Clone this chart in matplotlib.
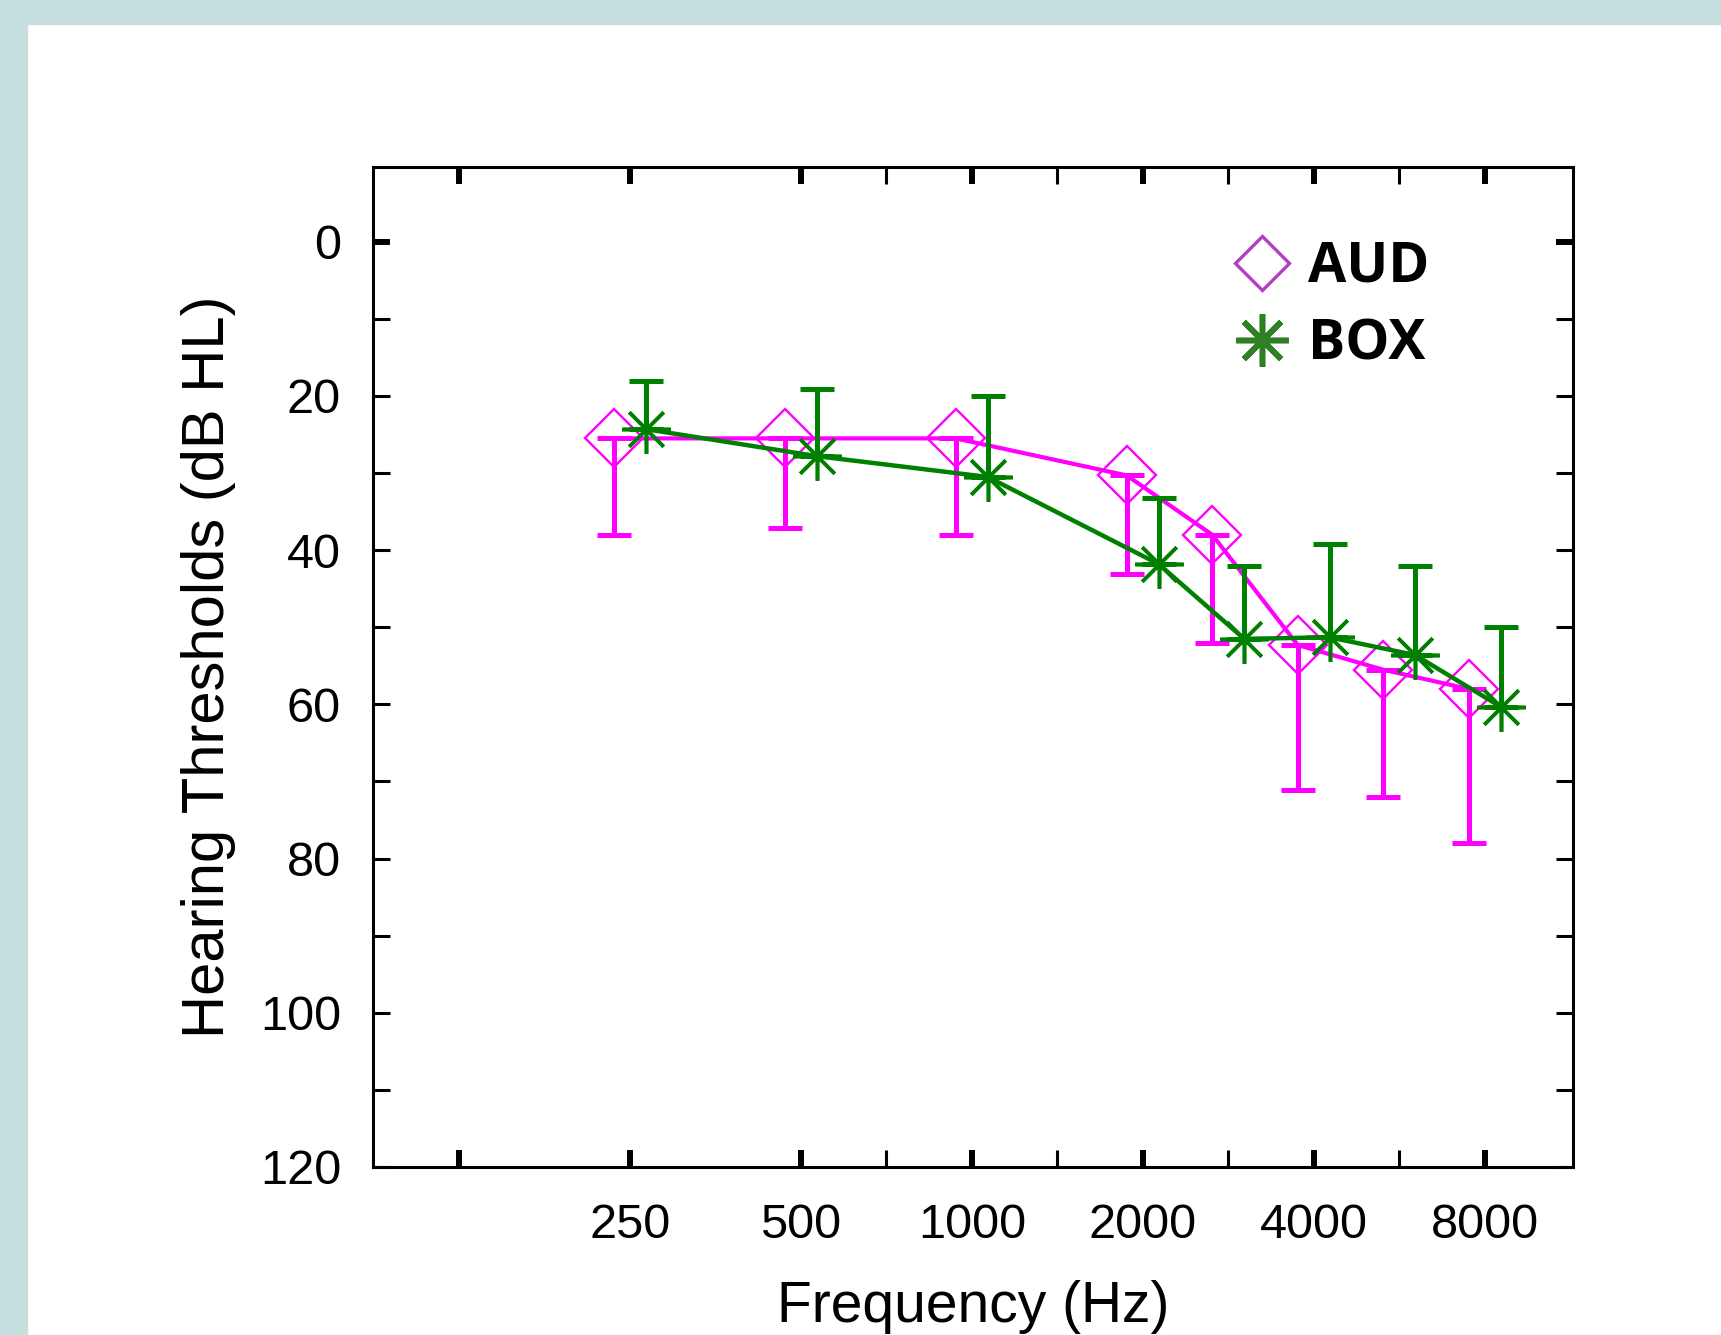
import numpy as np
import matplotlib
matplotlib.use("Agg")
import matplotlib.pyplot as plt
from matplotlib.lines import Line2D
from matplotlib.patches import Rectangle

# ---------------- data ----------------
freqs = [250, 500, 1000, 2000, 3000, 4000, 6000, 8000]
aud_mean = [25.5, 25.5, 25.5, 30.3, 38.0, 52.3, 55.5, 58.0]
aud_bar_end = [38.0, 37.1, 38.0, 43.1, 52.0, 71.1, 72.0, 78.0]
box_mean = [24.3, 27.8, 30.5, 41.8, 51.5, 51.3, 53.6, 60.3]
box_bar_end = [18.0, 19.1, 20.0, 33.2, 42.0, 39.2, 42.0, 49.9]

x_tick_freqs = [125, 250, 500, 1000, 2000, 4000, 8000]
x_tick_labels = ["", "250", "500", "1000", "2000", "4000", "8000"]
x_mid_freqs = [707, 1414, 2828, 5657]
y_major = [0, 20, 40, 60, 80, 100, 120]
y_minor = [10, 30, 50, 70, 90, 110]
legend_labels = ["AUD", "BOX"]

# ---------------- styling ----------------
FONT = "Liberation Sans"
AUD_COLOR = "#FF00FF"
BOX_COLOR = "#008000"
LEG_AUD_COLOR = "#B23FC0"
LEG_BOX_COLOR = "#2F7F24"
BAND_COLOR = "#C6E0E0"


def audio_pos(f):
    """Audiogram x-position in octaves re 250 Hz (half-octave grid)."""
    return np.round(2 * np.log2(np.asarray(f, dtype=float) / 250.0)) / 2


fig = plt.figure(figsize=(17.21, 13.35), dpi=100, facecolor="white")
W, H = 1721, 1335

# slide background bands
fig.patches.append(Rectangle((0, 0), 27 / W, 1, transform=fig.transFigure,
                             color=BAND_COLOR, zorder=0))
fig.patches.append(Rectangle((0, 1 - 24 / H), 1, 24 / H, transform=fig.transFigure,
                             color=BAND_COLOR, zorder=0))

ax = fig.add_axes([373 / W, (H - 1167) / H, 1200 / W, 1000 / H])

x = audio_pos(freqs)
aud_mean_a = np.array(aud_mean)
box_mean_a = np.array(box_mean)
aud_off = -0.095
box_off = 0.092

# AUD
ax.errorbar(x + aud_off, aud_mean_a,
            yerr=[np.zeros_like(aud_mean_a), np.array(aud_bar_end) - aud_mean_a],
            fmt="none", ecolor=AUD_COLOR, elinewidth=3.6, capsize=12, capthick=3.6, zorder=2)
ax.plot(x + aud_off, aud_mean_a, color=AUD_COLOR, lw=3.0, marker="D", ms=30,
        mfc="none", mec=AUD_COLOR, mew=1.7, zorder=3)

# BOX
ax.errorbar(x + box_off, box_mean_a,
            yerr=[box_mean_a - np.array(box_bar_end), np.zeros_like(box_mean_a)],
            fmt="none", ecolor=BOX_COLOR, elinewidth=3.6, capsize=12, capthick=3.6, zorder=4)
ax.plot(x + box_off, box_mean_a, color=BOX_COLOR, lw=3.2, marker=(8, 2, 0), ms=35,
        mec=BOX_COLOR, mew=2.6, zorder=5)

# axes
ax.set_xlim(-1.503, 5.515)
ax.set_ylim(120, -9.7)

ax.set_xticks(audio_pos(x_tick_freqs))
ax.set_xticklabels(x_tick_labels)
ax.set_xticks(audio_pos(x_mid_freqs), minor=True)
ax.set_yticks(y_major)
ax.set_yticklabels([str(v) for v in y_major])
ax.set_yticks(y_minor, minor=True)

for s in ax.spines.values():
    s.set_linewidth(2.2)

ax.tick_params(axis="both", which="both", direction="in", top=True, right=True,
               length=12.2, colors="black")
ax.tick_params(axis="x", which="major", width=4.3, pad=26)
ax.tick_params(axis="x", which="minor", width=2.2)
ax.tick_params(axis="y", which="both", width=2.2, pad=23)

for t in ax.yaxis.get_major_ticks()[:1]:
    t.tick1line.set_markeredgewidth(4.3)
    t.tick2line.set_markeredgewidth(4.3)

for lab in ax.get_xticklabels() + ax.get_yticklabels():
    lab.set_fontfamily(FONT)
    lab.set_fontsize(35)

ax.set_xlabel("Frequency (Hz)", fontfamily=FONT, fontsize=41, labelpad=23)
ax.set_ylabel("Hearing Thresholds (dB HL)", fontfamily=FONT, fontsize=43, labelpad=17)

# legend
handles = [
    Line2D([], [], ls="none", marker="D", ms=28, mfc="none", mec=LEG_AUD_COLOR, mew=2.4),
    Line2D([], [], ls="none", marker=(8, 2, 0), ms=38, mec=LEG_BOX_COLOR, mew=4.0),
]
leg = ax.legend(handles, legend_labels, loc="upper left",
                bbox_to_anchor=(1240 / W, (H - 240) / H), bbox_transform=fig.transFigure,
                frameon=False, handlelength=0.8, handletextpad=0.42, labelspacing=0.4,
                borderpad=0, borderaxespad=0,
                prop={"family": "Open Sans", "weight": "bold", "size": 40})

fig.savefig("out.png", dpi=100, facecolor="white")
